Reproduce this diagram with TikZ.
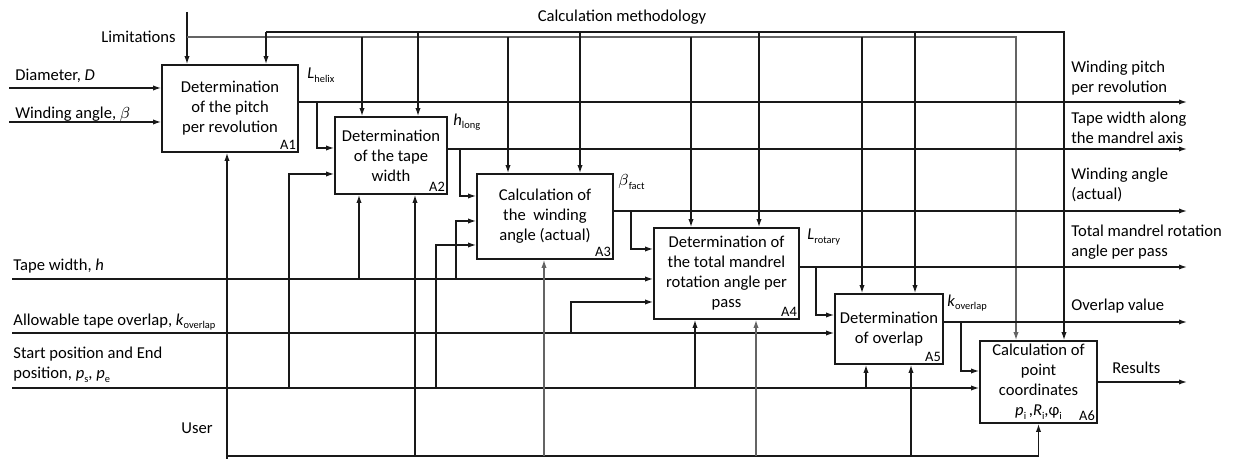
\documentclass[tikz,border=0pt]{standalone}
\usepackage{fontspec}
\setmainfont{Carlito}
\usepackage{tikz}
\usetikzlibrary{arrows.meta}
\definecolor{idline}{RGB}{25,25,25}
\definecolor{idgrey}{RGB}{100,100,100}
\newcommand{\lowtxt}[1]{\raisebox{-0.45ex}{\fontsize{5.2}{6}\selectfont #1}}
\tikzset{
  ln/.style   ={draw=idline, line width=0.65pt},
  lng/.style  ={draw=idgrey, line width=0.65pt},
  ptr/.style  ={ln, -{Latex[length=4pt,width=2.6pt]}},
  ptrg/.style ={lng, -{Latex[length=4pt,width=2.6pt]}},
  blk/.style  ={draw=idline, line width=0.85pt, fill=white, align=center, inner sep=0pt, font=\fontsize{8.3}{10}\selectfont},
  lab/.style  ={font=\fontsize{8.3}{10}\selectfont, inner sep=0pt, align=left},
  idx/.style  ={font=\fontsize{7.2}{8}\selectfont, inner sep=1.3pt, anchor=south east},
}

\begin{document}
\begin{tikzpicture}[x=0.5pt,y=-0.5pt]
  \useasboundingbox (0,0) rectangle (1239,459);
  % function blocks
  \node[blk, minimum width=68pt, minimum height=43.5pt] (A1) at (230,108.5) {Determination\\of the pitch\\per revolution};
  \node[blk, minimum width=56pt, minimum height=38.5pt] (A2) at (391,155.5) {Determination\\of the tape\\width};
  \node[blk, minimum width=68pt, minimum height=42.5pt] (A3) at (545,216.5) {Calculation of\\the\ \ winding\\angle (actual)};
  \node[blk, minimum width=72.5pt, minimum height=45.5pt] (A4) at (726.5,273.5) {Determination of\\the total mandrel\\rotation angle per\\pass};
  \node[blk, minimum width=54pt, minimum height=35pt] (A5) at (889,329) {Determination\\of overlap};
  \node[blk, minimum width=58.5pt, minimum height=41pt] (A6) at (1038.5,382) {Calculation of\\point\\coordinates\\\textit{p}\lowtxt{i}\,,\textit{R}\lowtxt{i},φ\lowtxt{i}};
  \node[idx] (A1id) at (A1.south east) {A1};
  \node[idx] (A2id) at (A2.south east) {A2};
  \node[idx] (A3id) at (A3.south east) {A3};
  \node[idx] (A4id) at (A4.south east) {A4};
  \node[idx] (A5id) at (A5.south east) {A5};
  \node[idx] (A6id) at (A6.south east) {A6};

  % controls
  \coordinate (limtop) at (187,12);
  \coordinate (limrow) at (187,37);
  \coordinate (metrow) at (266,32);
  \draw[ptr] (limtop) -- (limtop |- A1.north);
  \draw[ptrg] (limrow) -| (1016,37 |- A6.north);
  \draw[ptr] (metrow) -- (metrow |- A1.north);
  \draw[ptr] (metrow) -| (1064,32 |- A6.north);
  \foreach \x/\b in {362/A2,508/A3,691/A4,862/A5}
    \draw[ptr] (\x,37) -- (\x,37 |- \b.north);
  \foreach \x/\b in {418/A2,580/A3,759/A4,915/A5}
    \draw[ptr] (\x,32) -- (\x,32 |- \b.north);
  \node[lab, anchor=east] (tL) at (176,37) {Limitations};
  \node[lab] (tM) at (622,17) {Calculation methodology};

  % inputs
  \coordinate (inD) at (9,88);
  \coordinate (inB) at (9,122);
  \coordinate (inH) at (12,279);
  \coordinate (inK) at (12,333);
  \coordinate (inP) at (12,388);
  \draw[ptr] (inD) -- (inD -| A1.west);
  \draw[ptr] (inB) -- (inB -| A1.west);
  \draw[ptr] (inH) -- (inH -| A4.west);
  \draw[ptr] (inK) -- (inK -| A5.west);
  \draw[ptr] (inP) -- (inP -| A6.west);
  \node[lab, anchor=west] (tD) at (15,76) {Diameter, \textit{D}};
  \node[lab, anchor=west] (tB) at (15,114) {Winding angle, $\beta$};
  \node[lab, anchor=west] (tH) at (13,266) {Tape width, \textit{h}};
  \node[lab, anchor=west] (tK) at (13,322) {Allowable tape overlap, \textit{k}\lowtxt{overlap}};
  \node[lab, anchor=west] (tP) at (13,365) {Start position and End\\position, \textit{p}\lowtxt{s}, \textit{p}\lowtxt{e}};

  % outputs
  \coordinate (out1) at (1187,102);
  \coordinate (out2) at (1187,149);
  \coordinate (out3) at (1187,211);
  \coordinate (out4) at (1187,267);
  \coordinate (out5) at (1187,322);
  \coordinate (out6) at (1187,382);
  \draw[ptr] (A1.east |- out1) -- (out1);
  \draw[ptr] (A2.east |- out2) -- (out2);
  \draw[ptr] (A3.east |- out3) -- (out3);
  \draw[ptr] (A4.east |- out4) -- (out4);
  \draw[ptr] (A5.east |- out5) -- (out5);
  \draw[ptr] (A6.east |- out6) -- (out6);
  \node[lab, anchor=west] (o1) at (1071,78.5) {Winding pitch\\per revolution};
  \node[lab, anchor=west] (o2) at (1071,128) {Tape width along\\the mandrel axis};
  \node[lab, anchor=west] (o3) at (1071,185) {Winding angle\\(actual)};
  \node[lab, anchor=west] (o4) at (1071,242) {Total mandrel rotation\\angle per pass};
  \node[lab, anchor=west] (o5) at (1071,306) {Overlap value};
  \node[lab, anchor=west] (o6) at (1112,368) {Results};
  \node[lab, anchor=west] (vL) at (307,75) {\textit{L}\lowtxt{helix}};
  \node[lab, anchor=west] (vh) at (453,122) {\textit{h}\lowtxt{long}};
  \node[lab, anchor=west] (vb) at (618,182) {$\beta$\lowtxt{fact}};
  \node[lab, anchor=west] (vr) at (807,237) {\textit{L}\lowtxt{rotary}};
  \node[lab, anchor=west] (vk) at (947,303) {\textit{k}\lowtxt{overlap}};

  % block to block
  \draw[ptr] (317,102) |- (A2.west |- 0,148);
  \draw[ptr] (460,149) |- (A3.west |- 0,196);
  \draw[ptr] (631,211) |- (A4.west |- 0,249);
  \draw[ptr] (816,267) |- (A5.west |- 0,315);
  \draw[ptr] (961,322) |- (A6.west |- 0,371);

  % side feeds
  \draw[ptr] (289,388) |- (A2.west |- 0,174);
  \draw[ptr] (456,279) |- (A3.west |- 0,221);
  \draw[ptr] (436,388) |- (A3.west |- 0,245);
  \draw[ptr] (571,333) |- (A4.west |- 0,302);
  \draw[ptr] (359,279) -- (359,279 |- A2.south);
  \draw[ptr] (695,388) -- (695,388 |- A4.south);
  \draw[ptr] (866,388) -- (866,388 |- A5.south);

  % mechanism
  \coordinate (usr) at (227,459);
  \coordinate (usrow) at (227,456);
  \draw[ptr] (usr) -- (usr |- A1.south);
  \draw[ptr] (usrow) -| (A6.south);
  \foreach \x/\b in {415/A2,911/A5}
    \draw[ptr] (\x,456) -- (\x,456 |- \b.south);
  \foreach \x/\b in {544/A3,756/A4}
    \draw[ptrg] (\x,456) -- (\x,456 |- \b.south);
  \node[lab, anchor=east] (tU) at (213,428) {User};
\end{tikzpicture}
\end{document}
